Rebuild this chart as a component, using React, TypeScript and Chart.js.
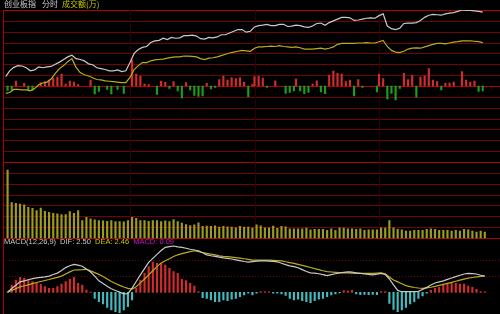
import React, { useEffect, useRef } from "react";
import { Chart, registerables } from "chart.js";

Chart.register(...registerables);

// ---- Data ----
// Index price vs previous close, % change, one point every 2 minutes from 9:30
const PRICE = [
  0.21, 0.35, 0.43, 0.47, 0.46, 0.42, 0.35, 0.37, 0.44, 0.42,
  0.44, 0.45, 0.5, 0.55, 0.61, 0.67, 0.71, 0.63, 0.61, 0.58,
  0.51, 0.49, 0.42, 0.4, 0.38, 0.35, 0.35, 0.37, 0.33, 0.35,
  0.54, 0.75, 0.84, 0.89, 0.91, 1.0, 1.04, 1.05, 1.1, 1.07,
  1.12, 1.1, 1.11, 1.16, 1.16, 1.17, 1.15, 1.09, 1.08, 1.12,
  1.11, 1.13, 1.18, 1.18, 1.22, 1.26, 1.3, 1.3, 1.24, 1.26,
  1.36, 1.39, 1.4, 1.42, 1.39, 1.39, 1.42, 1.42, 1.37, 1.38,
  1.4, 1.39, 1.36, 1.35, 1.38, 1.44, 1.45, 1.4, 1.46, 1.5,
  1.54, 1.58, 1.58, 1.57, 1.51, 1.52, 1.54, 1.56, 1.57, 1.56,
  1.62, 1.66, 1.38, 1.32, 1.3, 1.33, 1.44, 1.45, 1.45, 1.46,
  1.51, 1.58, 1.63, 1.65, 1.64, 1.63, 1.66, 1.68, 1.69, 1.72,
  1.75, 1.74, 1.74, 1.73, 1.72, 1.7,
];
// Average (yellow) line, % change
const AVG = [
  -0.17, -0.15, -0.08, -0.08, -0.09, -0.09, -0.11, -0.06, 0.03, 0.07,
  0.09, 0.16, 0.29, 0.4, 0.47, 0.56, 0.63, 0.43, 0.31, 0.26,
  0.23, 0.19, 0.15, 0.14, 0.12, 0.11, 0.1, 0.09, 0.08, 0.08,
  0.2, 0.38, 0.47, 0.54, 0.54, 0.58, 0.6, 0.61, 0.62, 0.64,
  0.66, 0.67, 0.67, 0.69, 0.69, 0.68, 0.67, 0.63, 0.61, 0.64,
  0.65, 0.67, 0.7, 0.73, 0.76, 0.78, 0.8, 0.82, 0.81, 0.8,
  0.87, 0.9, 0.9, 0.91, 0.92, 0.91, 0.93, 0.91, 0.9, 0.89,
  0.9, 0.88, 0.85, 0.85, 0.85, 0.86, 0.87, 0.85, 0.87, 0.9,
  0.96, 0.98, 0.98, 0.98, 0.98, 0.99, 0.99, 1.0, 0.99, 0.99,
  1.02, 1.05, 0.91, 0.82, 0.78, 0.77, 0.8, 0.85, 0.87, 0.88,
  0.87, 0.9, 0.93, 0.96, 0.98, 0.98, 0.97, 0.99, 1.01, 1.02,
  1.04, 1.04, 1.04, 1.03, 1.02, 1.0,
];
// Red/green strength bars around the previous-close line (minute, value)
const FLOW_MIN = [
  1, 3, 5, 9, 11, 13, 17, 19, 21, 23, 25, 27, 29, 31, 33, 35, 41, 43, 45, 49,
  51, 54, 57, 61, 63, 65, 67, 69, 73, 75, 77, 79, 81, 83, 85, 87, 89, 91, 93, 95,
  97, 99, 101, 103, 105, 107, 109, 111, 113, 115, 117, 119, 120, 122, 124, 126, 130, 135, 137, 139,
  140, 142, 144, 146, 148, 150, 152, 154, 156, 158, 160, 162, 164, 166, 168, 170, 172, 179, 180, 182,
  184, 186, 188, 190, 192, 194, 196, 198, 200, 202, 204, 206, 208, 210, 212, 214, 216, 220, 222, 224,
  226, 228, 230,
];
const FLOW_VAL = [
  -4.5, -4, 5, 2.7, -4, -4.5, 3.5, 4.5, 6, 8, 9, 12, 2, 5, 4, 1.5, 6, -8, -5.5, -3.3,
  -8, -3.3, -7.3, 26, 12, 10, 2, 1.5, -8.5, 5, 4, -2.3, 4.3, -5, -12, 3.3, -4, -9.5, -10.5, -10,
  2.7, -3, -1.5, 6.5, 10, 6, 8.3, 7.5, 8.3, 4, -10.7, 1.5, 9.5, 9.7, 8, -1.5, 5.2, -7.3, -6.5, -4.8,
  6.8, -4.8, -7.6, -6.5, 2, 5.2, -6, -7.6, 11, 15, 12.7, 12, 4.3, 6, -10, 6.5, -1.5, -6, 12, 7.3,
  -13, -7.3, -14, -2.3, 12.7, 6.5, 10.6, -11.2, 9, 10, 17.3, 6, 4.3, -4, 3, 3, 4, 14.3, 6, 4,
  4.8, -5.3, -4.8,
];
// Turnover (成交额, 万), one bar every 2 minutes
const VOLUME = [
  6870, 3600, 3500, 3440, 3370, 3100, 3000, 2770, 3040, 2700,
  2600, 2500, 2440, 2370, 2370, 2670, 2500, 2770, 1770, 2100,
  1940, 1840, 1770, 1740, 1700, 1770, 1670, 1670, 1640, 1770,
  2100, 2000, 1770, 1770, 1700, 1770, 1770, 1670, 1740, 1670,
  1870, 1670, 1500, 1370, 1270, 1340, 1540, 1170, 1200, 1170,
  1240, 1100, 1170, 1140, 1100, 1040, 1170, 1100, 1100, 1000,
  1340, 1240, 1040, 1040, 1200, 970, 1170, 1140, 940, 940,
  940, 940, 1000, 840, 870, 870, 870, 770, 940, 770,
  1040, 1000, 940, 940, 870, 940, 770, 840, 840, 840,
  1040, 1000, 1770, 1040, 870, 840, 700, 700, 770, 770,
  770, 870, 940, 870, 770, 770, 770, 700, 770, 700,
  870, 840, 700, 600, 700, 600,
];
// MACD(12,26,9)
const DIF = [
  0, 0.57, 1.07, 1.6, 1.76, 1.93, 2.1, 2.21, 2.29, 2.36,
  2.48, 2.73, 2.94, 3.33, 3.79, 4.08, 4.28, 4.16, 4.0, 3.56,
  3.11, 2.48, 1.76, 1.35, 0.92, 0.55, 0.28, 0.03, -0.23, -0.2,
  0.64, 1.66, 2.67, 3.63, 4.59, 5.21, 5.81, 6.4, 6.9, 7.01,
  7.1, 6.96, 6.9, 6.75, 6.6, 6.49, 6.38, 6.06, 5.74, 5.61,
  5.51, 5.4, 5.29, 5.2, 5.11, 4.98, 4.85, 4.72, 4.62, 4.71,
  4.77, 4.82, 4.83, 4.79, 4.74, 4.68, 4.46, 4.25, 4.06, 3.94,
  3.76, 3.48, 3.19, 2.99, 2.94, 2.85, 2.7, 2.55, 2.7, 2.85,
  2.98, 3.07, 3.14, 3.08, 2.99, 2.91, 2.82, 2.75, 2.67, 2.78,
  2.91, 2.73, 2.04, 1.15, 0.29, 0.09, 0.09, 0.09, 0.09, 0.15,
  0.44, 0.75, 1.13, 1.43, 1.61, 1.76, 1.98, 2.19, 2.41, 2.62,
  2.81, 2.9, 2.85, 2.81, 2.62, 2.5,
];
const DEA = [
  0, 0.28, 0.57, 0.84, 1.0, 1.15, 1.33, 1.5, 1.66, 1.81,
  1.96, 2.13, 2.29, 2.48, 2.81, 3.13, 3.42, 3.45, 3.48, 3.53,
  3.28, 3.01, 2.75, 2.41, 2.04, 1.67, 1.35, 1.06, 0.81, 0.6,
  0.49, 0.86, 1.44, 2.04, 2.67, 3.3, 3.94, 4.51, 4.83, 5.15,
  5.48, 5.75, 5.92, 6.09, 6.24, 6.37, 6.23, 6.1, 5.98, 5.86,
  5.74, 5.6, 5.52, 5.46, 5.4, 5.32, 5.25, 5.15, 5.06, 4.95,
  4.95, 4.95, 4.95, 4.92, 4.89, 4.86, 4.82, 4.68, 4.56, 4.43,
  4.29, 4.13, 3.97, 3.8, 3.63, 3.48, 3.31, 3.16, 3.11, 3.07,
  3.02, 2.99, 2.96, 2.94, 2.91, 2.91, 2.91, 2.91, 2.91, 2.94,
  2.98, 2.82, 2.36, 1.89, 1.6, 1.32, 1.03, 0.86, 0.74, 0.66,
  0.61, 0.67, 0.77, 0.9, 1.06, 1.21, 1.37, 1.52, 1.69, 1.86,
  2.02, 2.18, 2.27, 2.36, 2.45, 2.46,
];
const MACD_BAR = [
  0, 1.12, 1.89, 2.3, 2.15, 1.89, 1.64, 1.38, 1.23, 0.87,
  0.61, 0.61, 0.87, 1.27, 1.64, 1.99, 2.3, 1.38, 1.12, 0.35,
  0.05, -0.92, -1.43, -1.79, -2.3, -2.71, -2.96, -3.11, -2.71, -2.19,
  -1.18, 0.61, 1.89, 2.91, 3.94, 4.6, 4.45, 4.45, 4.19, 3.68,
  3.17, 2.91, 1.99, 1.79, 1.38, 0.97, 0.11, -0.81, -0.92, -1.18,
  -1.43, -1.43, -1.18, -1.27, -1.07, -0.92, -0.66, -0.41, -0.15, -0.41,
  -0.15, 0.11, 0.11, 0.08, -0.15, -0.15, -0.23, -0.46, -0.92, -1.18,
  -1.07, -1.27, -1.43, -1.58, -1.27, -1.07, -0.92, -0.66, -0.41, -0.26,
  -0.08, 0.26, 0.2, 0.31, -0.26, -0.35, -0.31, -0.35, -0.31, -0.35,
  0.11, 0.11, -1.69, -2.61, -2.96, -2.71, -2.3, -1.79, -1.43, -0.92,
  -0.57, -0.15, 0.35, 0.61, 0.77, 1.12, 1.27, 1.49, 1.38, 1.27,
  1.27, 0.97, 0.77, 0.46, 0.11, 0.09,
];
const HEADER = ["创业板指", "分时", "成交额(万)"];
const MACD_NAME = "MACD(12,26,9)";
const MACD_LAST = { dif: "2.50", dea: "2.46", macd: "0.09" };
const HOUR_MARKS = [60, 120, 180];
const SESSION_MINUTES = 240;
const PRICE_STEP = 0.25;
const VOL_STEP = 1100;
const MACD_GUIDES = [5, 2.5];

// ---- Layout / style ----
const CW = 506;
const CH = 314;
const AREA = { left: 5.5, right: 503.5, top: 10, bottom: 314 };
const PANEL = { priceTop: 10, priceMid: 86, priceBottom: 162, volBottom: 238, macdZero: 292.3 };
const MACD_PX_PER_UNIT = 6.52;

const C = {
  gridDim: "#6e0606",
  gridBright: "#b00000",
  vDim: "#2e0000",
  white: "#c9c9c9",
  yellow: "#b8ad1c",
  red: "#d22c2c",
  green: "#1c9e1c",
  vol: "#9d9a1e",
  cyan: "#45b9bd",
  magenta: "#d010d0",
  textYellow: "#c8c400",
};

function fitRange(vTop: number, vBot: number, pTop: number, pBot: number) {
  const k = (vTop - vBot) / (pBot - pTop);
  return { min: vBot - (AREA.bottom - pBot) * k, max: vTop + (pTop - AREA.top) * k };
}

const priceRange = fitRange(7 * PRICE_STEP, -7 * PRICE_STEP, PANEL.priceTop, PANEL.priceBottom);
const flowRange = fitRange(PANEL.priceMid - PANEL.priceTop, 0, PANEL.priceTop, PANEL.priceMid);
const volRange = fitRange(7 * VOL_STEP, 0, PANEL.priceBottom, PANEL.volBottom);
const macdRange = fitRange(
  (PANEL.macdZero - PANEL.volBottom) / MACD_PX_PER_UNIT,
  0,
  PANEL.volBottom,
  PANEL.macdZero
);

const gridPlugin = {
  id: "tdxGrid",
  beforeDatasetsDraw(chart: any) {
    const { ctx, scales } = chart;
    const x0 = 3;
    const x1 = CW;
    ctx.save();
    const hline = (y: number, color: string, dash?: number[]) => {
      const yy = Math.round(y) + 0.5;
      ctx.beginPath();
      ctx.setLineDash(dash || []);
      ctx.strokeStyle = color;
      ctx.lineWidth = 1;
      ctx.moveTo(x0, yy);
      ctx.lineTo(x1, yy);
      ctx.stroke();
    };
    for (let k = -7; k <= 7; k++) {
      const y = scales.yPrice.getPixelForValue(k * PRICE_STEP);
      const bright = k === 7 || k === -7 || k === 0;
      hline(y, bright ? C.gridBright : C.gridDim);
    }
    for (let k = 0; k < 7; k++) {
      const y = scales.yVol.getPixelForValue(k * VOL_STEP);
      hline(y, k === 0 ? C.gridBright : C.gridDim);
    }
    for (const g of MACD_GUIDES) {
      hline(scales.yMacd.getPixelForValue(g), C.gridDim, [1, 2]);
    }
    ctx.setLineDash([]);
    const top = chart.chartArea.top;
    const bottom = scales.yVol.getPixelForValue(0);
    for (const m of HOUR_MARKS) {
      const x = Math.round(scales.x.getPixelForValue(m)) + 0.5;
      ctx.beginPath();
      ctx.strokeStyle = C.vDim;
      ctx.moveTo(x, top);
      ctx.lineTo(x, bottom);
      ctx.stroke();
    }
    ctx.beginPath();
    ctx.strokeStyle = C.gridBright;
    ctx.moveTo(x0 + 0.5, top);
    ctx.lineTo(x0 + 0.5, CH);
    ctx.stroke();
    ctx.restore();
  },
};

export default function App() {
  const ref = useRef<HTMLCanvasElement | null>(null);

  useEffect(() => {
    if (!ref.current) return;
    const pricePts = PRICE.map((v, i) => ({ x: i * 2, y: v }));
    const avgPts = AVG.map((v, i) => ({ x: i * 2, y: v }));
    const flowPts = FLOW_VAL.map((v, i) => ({ x: FLOW_MIN[i], y: v }));
    const volPts = VOLUME.map((v, i) => ({ x: i * 2 + 1, y: v }));
    const difPts = DIF.map((v, i) => ({ x: i * 2 + 1, y: v }));
    const deaPts = DEA.map((v, i) => ({ x: i * 2 + 1, y: v }));
    const macdPts = MACD_BAR.map((v, i) => ({ x: i * 2 + 1, y: v }));

    const line = (data: any[], color: string, axis: string) => ({
      type: "line" as const,
      data,
      yAxisID: axis,
      borderColor: color,
      borderWidth: 1.2,
      pointRadius: 0,
      tension: 0,
      fill: false,
    });
    const bars = (data: any[], colors: string[] | string, axis: string, w: number) => ({
      type: "bar" as const,
      data,
      yAxisID: axis,
      backgroundColor: colors,
      borderWidth: 0,
      barThickness: w,
      grouped: false,
    });

    const chart = new Chart(ref.current, {
      type: "bar",
      data: {
        datasets: [
          line(pricePts, C.white, "yPrice"),
          line(avgPts, C.yellow, "yPrice"),
          line(difPts, C.white, "yMacd"),
          line(deaPts, C.yellow, "yMacd"),
          bars(flowPts, FLOW_VAL.map((v) => (v >= 0 ? C.red : C.green)), "yFlow", 1.5),
          bars(volPts, C.vol, "yVol", 1.5),
          bars(macdPts, MACD_BAR.map((v) => (v >= 0 ? C.red : C.cyan)), "yMacd", 1.5),
        ] as any,
      },
      options: {
        animation: false,
        responsive: false,
        devicePixelRatio: 1,
        layout: {
          padding: {
            left: AREA.left,
            right: CW - AREA.right,
            top: AREA.top,
            bottom: CH - AREA.bottom,
          },
        },
        plugins: { legend: { display: false }, tooltip: { enabled: false }, title: { display: false } },
        scales: {
          x: { type: "linear", min: 0, max: SESSION_MINUTES, display: false, offset: false },
          yPrice: { type: "linear", display: false, ...priceRange },
          yFlow: { type: "linear", display: false, ...flowRange },
          yVol: { type: "linear", display: false, ...volRange },
          yMacd: { type: "linear", display: false, ...macdRange },
        },
      } as any,
      plugins: [gridPlugin],
    });
    return () => chart.destroy();
  }, []);

  const cjk = '"Noto Sans CJK SC", "Noto Sans", sans-serif';
  return (
    <div
      style={{
        position: "fixed",
        left: 0,
        top: 0,
        width: 500,
        height: 314,
        overflow: "hidden",
        background: "#000",
      }}
    >
      <canvas ref={ref} width={CW} height={CH} style={{ display: "block", width: CW, height: CH }} />
      <div
        style={{
          position: "absolute",
          left: 4,
          top: -2,
          fontFamily: cjk,
          fontSize: 8,
          lineHeight: "12px",
          whiteSpace: "nowrap",
        }}
      >
        <span style={{ color: C.white }}>{HEADER[0]}</span>
        <span style={{ color: C.white, marginLeft: 6 }}>{HEADER[1]}</span>
        <span style={{ color: C.textYellow, marginLeft: 4 }}>{HEADER[2]}</span>
      </div>
      <div
        style={{
          position: "absolute",
          left: 4,
          top: 237,
          fontFamily: '"Liberation Sans", Arial, sans-serif',
          fontSize: 7.5,
          lineHeight: "10px",
          whiteSpace: "nowrap",
        }}
      >
        <span style={{ color: C.white }}>{MACD_NAME}</span>
        <span style={{ color: C.white, marginLeft: 4 }}>DIF: {MACD_LAST.dif}</span>
        <span style={{ color: C.textYellow, marginLeft: 4 }}>DEA: {MACD_LAST.dea}</span>
        <span style={{ color: C.magenta, marginLeft: 4 }}>MACD: {MACD_LAST.macd}</span>
      </div>
    </div>
  );
}
